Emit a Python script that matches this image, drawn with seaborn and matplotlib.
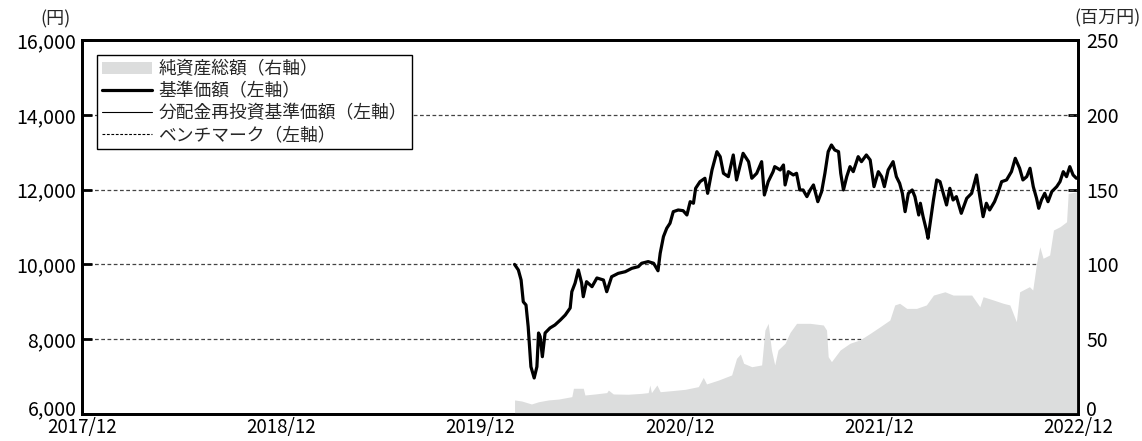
import matplotlib
matplotlib.use("Agg")
import matplotlib.pyplot as plt
from matplotlib.patches import Patch
from matplotlib.lines import Line2D
from matplotlib.transforms import ScaledTranslation
import pandas as pd
import seaborn as sns

# ---------------- data ----------------
launch = "2020-02-01"
# days since launch, base price (円)
price_days = [0, 7, 12, 16, 21, 25, 30, 36, 41, 44, 47, 51, 56, 65, 74, 84, 93, 102, 105, 111,
              117, 123, 126, 132, 142, 151, 163, 169, 178, 190, 203, 215, 227, 233, 245, 255, 263, 267, 273, 279,
              285, 291, 300, 309, 316, 322, 328, 332, 340, 349, 354, 362, 371, 377, 383, 392, 401, 407, 419, 429,
              435, 444, 453, 458, 465, 474, 477, 487, 493, 496, 502, 511, 517, 523, 529, 536, 542, 548, 556, 563,
              569, 575, 581, 587, 594, 598, 603, 609, 615, 621, 630, 636, 645, 652, 659, 667, 673, 678, 685, 694,
              700, 706, 711, 716, 722, 729, 734, 741, 744, 749, 755, 758, 761, 768, 774, 780, 786, 792, 798, 804,
              810, 819, 829, 838, 847, 853, 859, 865, 871, 880, 886, 893, 902, 911, 918, 926, 932, 939, 945, 951,
              957, 961, 966, 972, 978, 985, 994, 1000, 1006, 1012, 1018, 1024, 1030]
price = [10000, 9850, 9583, 9000, 8915, 8334, 7265, 6963, 7265, 8166, 8067, 7532, 8166, 8300, 8380, 8514, 8647, 8835, 9270, 9500,
         9850, 9500, 9136, 9538, 9404, 9637, 9583, 9270, 9671, 9760, 9805, 9895, 9940, 10030, 10075, 10030, 9830, 10297, 10743, 10966,
         11100, 11410, 11455, 11437, 11321, 11677, 11635, 12035, 12212, 12303, 11900, 12525, 13014, 12881, 12436, 12346, 12926, 12258, 12970, 12747,
         12303, 12436, 12747, 11856, 12212, 12480, 12614, 12525, 12658, 12124, 12480, 12391, 12436, 11990, 11990, 11812, 11990, 12124, 11677, 11946,
         12436, 13014, 13193, 13059, 13014, 12436, 11990, 12346, 12614, 12480, 12881, 12747, 12926, 12792, 12079, 12480, 12346, 12079, 12525, 12747,
         12346, 12168, 11900, 11410, 11900, 11990, 11812, 11321, 11635, 11276, 10920, 10698, 11008, 11722, 12258, 12212, 11900, 11589, 12035, 11722,
         11812, 11366, 11767, 11900, 12391, 11812, 11276, 11635, 11455, 11677, 11900, 12212, 12258, 12480, 12837, 12570, 12258, 12346, 12570, 12079,
         11767, 11500, 11722, 11900, 11677, 11946, 12079, 12212, 12480, 12346, 12614, 12391, 12303]
# no distributions paid: reinvested price equals base price
reinvest = list(price)
# benchmark: none shown
bench_days = []
bench = []

# days since launch, net assets (百万円)
asset_days = [0, 13, 31, 44, 62, 81, 105, 108, 126, 129, 148, 169, 172, 181, 208, 233, 245, 248, 251, 261,
              267, 288, 313, 337, 346, 352, 374, 398, 407, 414, 420, 435, 453, 459, 465, 471, 477, 483, 496, 505,
              517, 542, 566, 572, 575, 581, 597, 615, 633, 652, 670, 688, 697, 706, 719, 737, 755, 768, 789, 804,
              823, 838, 853, 859, 878, 896, 908, 920, 926, 944, 950, 957, 963, 969, 981, 988, 1000, 1012, 1015, 1032]
assets = [9.4, 8.7, 6.7, 8.2, 9.4, 10.0, 11.6, 17.2, 17.2, 12.7, 13.4, 14.3, 16.0, 13.4, 13.2, 13.8, 14.3, 19.4, 14.3, 19.4,
          14.9, 15.6, 16.5, 18.3, 24.5, 20.1, 22.7, 26.1, 37.2, 40.1, 33.9, 31.6, 32.8, 56.1, 60.6, 42.8, 32.8, 42.8, 47.3, 54.5,
          60.6, 60.6, 59.5, 56.1, 38.3, 35.0, 42.8, 47.3, 49.5, 53.9, 58.3, 62.8, 72.9, 74.0, 70.6, 70.6, 72.9, 79.5, 81.7, 79.5,
          79.5, 79.5, 71.7, 78.4, 76.2, 74.0, 72.9, 61.7, 81.7, 85.1, 82.9, 100.7, 111.8, 104.1, 106.3, 123.0, 125.2, 128.5, 147.5, 148.6]

x_ticks = ["2017-11-30", "2018-11-30", "2019-11-30", "2020-11-30", "2021-11-30", "2022-11-30"]
x_tick_labels = ["2017/12", "2018/12", "2019/12", "2020/12", "2021/12", "2022/12"]
left_ticks = [6000, 8000, 10000, 12000, 14000, 16000]
right_ticks = [0, 50, 100, 150, 200, 250]

labels = ["純資産総額（右軸）", "基準価額（左軸）", "分配金再投資基準価額（左軸）", "ベンチマーク（左軸）"]

# ---------------- build frames ----------------
t0 = pd.Timestamp(launch)
df_p = pd.DataFrame({"date": t0 + pd.to_timedelta(price_days, unit="D"),
                     "price": price, "reinvest": reinvest})
df_a = pd.DataFrame({"date": t0 + pd.to_timedelta(asset_days, unit="D"), "assets": assets})

# ---------------- style ----------------
sns.set_theme(style="white")
plt.rcParams["font.family"] = ["Noto Sans CJK JP", "DejaVu Sans"]
plt.rcParams["axes.unicode_minus"] = False

fig = plt.figure(figsize=(11.42, 4.41), dpi=100)
ax = fig.add_axes([82 / 1142, 27 / 441, 996 / 1142, 374 / 441])
ax2 = ax.twinx()

# area on right axis below the price lines
ax2.set_zorder(1)
ax.set_zorder(2)
ax.patch.set_visible(False)

ax2.fill_between(df_a["date"], 0, df_a["assets"], color="#dcdddd", lw=0, zorder=3)
for v in [50, 100, 150, 200]:
    ax2.axhline(v, color="#444444", lw=0.9, ls=(0, (3, 2)), zorder=1)

sns.lineplot(data=df_p, x="date", y="price", ax=ax, color="black", lw=2.3, legend=False)
sns.lineplot(data=df_p, x="date", y="reinvest", ax=ax, color="black", lw=0.8, legend=False)

ax.set_xlim(pd.Timestamp(x_ticks[0]), pd.Timestamp(x_ticks[-1]))
ax.set_ylim(6000, 16000)
ax2.set_ylim(0, 250)

ax.set_xticks(pd.to_datetime(x_ticks))
ax.set_xticklabels(x_tick_labels)
ax.set_yticks(left_ticks)
ax.set_yticklabels([f"{v:,}" for v in left_ticks])
ax2.set_yticks(right_ticks)
ax2.set_yticklabels([str(v) for v in right_ticks])
ax.set_xlabel("")
ax.set_ylabel("")
ax2.set_ylabel("")

fs = 14
ax.tick_params(axis="y", direction="in", length=7, width=2, labelsize=fs, colors="black", pad=4)
ax.tick_params(axis="x", direction="in", length=7, width=2, labelsize=13.5, colors="black", pad=2)
ax2.tick_params(axis="y", direction="in", length=7, width=2, labelsize=fs, colors="black", pad=6)
for a in (ax, ax2):
    for s in a.spines.values():
        s.set_linewidth(2)
        s.set_color("black")

# nudge the bottom-most y labels up a little so they clear the date labels
up = ScaledTranslation(0, 4.5 / 72, fig.dpi_scale_trans)
ax.get_yticklabels()[0].set_transform(ax.get_yticklabels()[0].get_transform() + up)
ax2.get_yticklabels()[0].set_transform(ax2.get_yticklabels()[0].get_transform() + up)

fig.text(71 / 1142, 1 - 19 / 441, "(円)", fontsize=13, ha="right", va="center")
fig.text(1141 / 1142, 1 - 18 / 441, "(百万円)", fontsize=13, ha="right", va="center")

handles = [Patch(facecolor="#dcdddd", edgecolor="none"),
           Line2D([], [], color="black", lw=2.3),
           Line2D([], [], color="black", lw=0.8),
           Line2D([], [], color="black", lw=0.8, ls=(0, (2.5, 1.5)))]
leg = ax.legend(handles, labels, loc="upper left", bbox_to_anchor=(0.015, 0.96),
                fontsize=12.8, frameon=True, fancybox=False, framealpha=1, edgecolor="black",
                handlelength=2.8, handletextpad=0.35, labelspacing=0.22, borderpad=0.3, borderaxespad=0)
leg.get_frame().set_linewidth(1.0)
leg.set_zorder(10)

fig.savefig("out.png", dpi=100)
